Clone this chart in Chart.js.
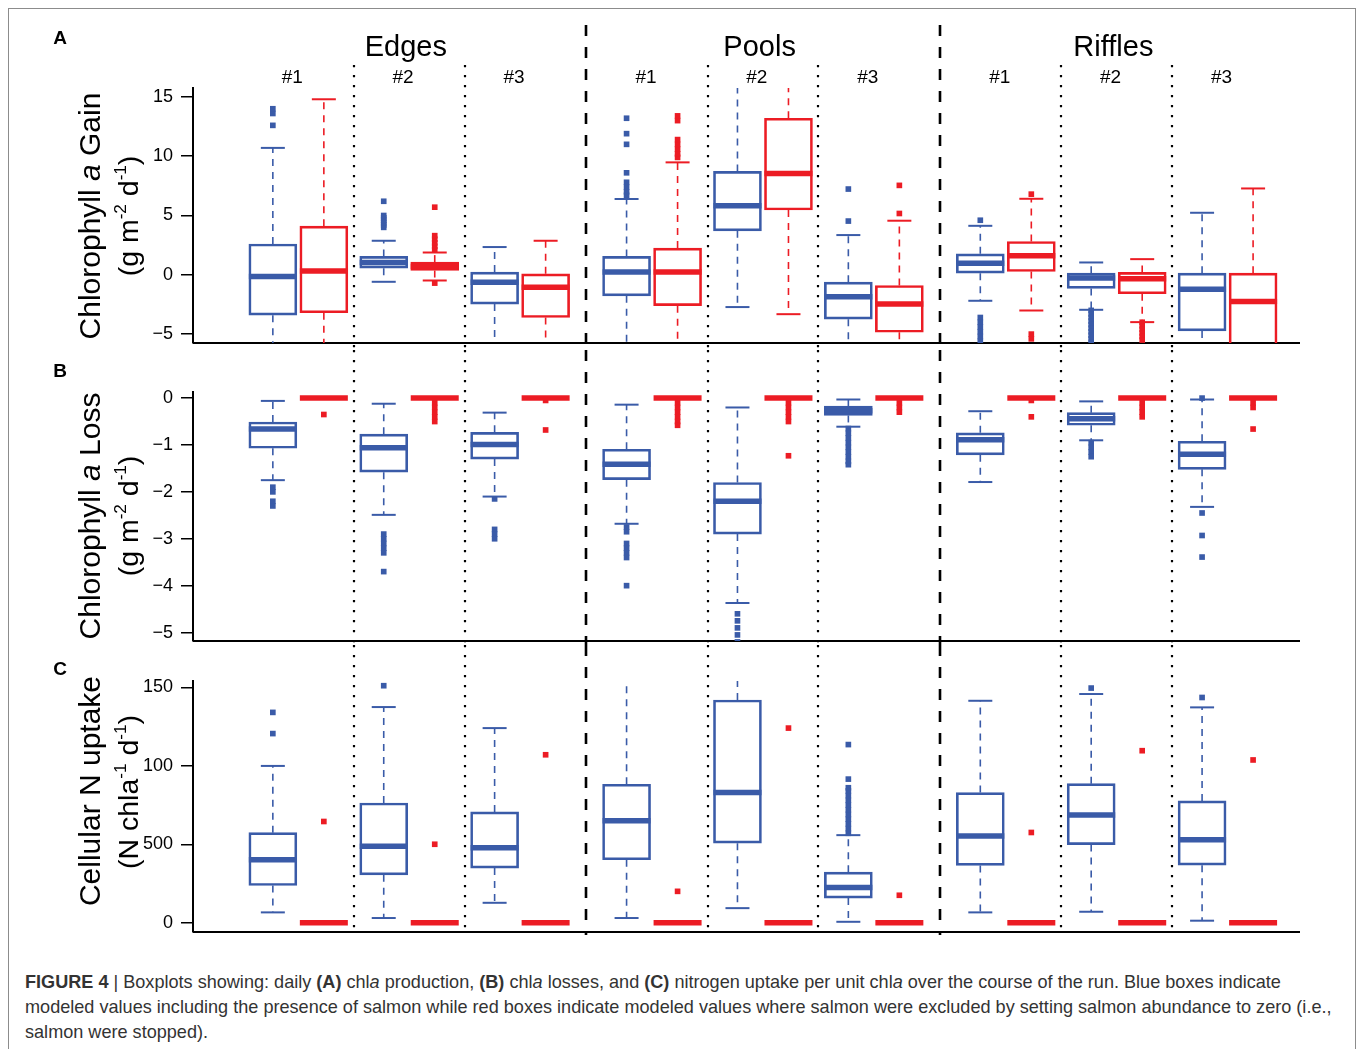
<!DOCTYPE html>
<html>
<head>
<meta charset="utf-8">
<script src="https://cdn.jsdelivr.net/npm/chart.js@4.4.1/dist/chart.umd.min.js"></script>
<style>
  body { margin: 0; background: #fff; font-family: "Liberation Sans", Arial, sans-serif; }
  #page { position: relative; width: 1360px; height: 1049px; overflow: hidden; }
  #frame { position: absolute; left: 8px; top: 8px; width: 1346px; height: 1100px; border: 1.5px solid #8c8c8c; }
  canvas { position: absolute; left: 0; }
  .lab { position: absolute; white-space: nowrap; transform: translate(-50%, -50%); color: #000; line-height: 1; }
  .ytitle { position: absolute; white-space: nowrap; transform: translate(-50%, -50%) rotate(-90deg); color: #000; line-height: 1; }
  .ytitle sup { font-size: 60%; vertical-align: 0; position: relative; top: -0.7em; }
  .letter { font-weight: bold; font-size: 19px; }
  .hab { font-size: 29px; }
  .site { font-size: 19px; }
  #caption { position: absolute; left: 25px; top: 970px; width: 1330px; font-size: 18.1px; line-height: 25px; color: #333; }
</style>
</head>
<body>
<div id="page">
  <div id="frame"></div>
  <canvas id="chartA" width="1360" height="330" style="top:20px"></canvas>
  <canvas id="chartB" width="1360" height="295" style="top:350px"></canvas>
  <canvas id="chartC" width="1360" height="300" style="top:645px"></canvas>

  <div class="lab letter" style="left:60px;top:37px">A</div>
  <div class="lab letter" style="left:60px;top:370px">B</div>
  <div class="lab letter" style="left:60px;top:668px">C</div>

  <div class="ytitle" style="left:90px;top:216px;font-size:30px">Chlorophyll <i>a</i> Gain</div>
  <div class="ytitle" style="left:128px;top:216px;font-size:28.5px">(g m<sup>-2</sup> d<sup>-1</sup>)</div>
  <div class="ytitle" style="left:90px;top:516px;font-size:30px">Chlorophyll <i>a</i> Loss</div>
  <div class="ytitle" style="left:128px;top:516px;font-size:28.5px">(g m<sup>-2</sup> d<sup>-1</sup>)</div>
  <div class="ytitle" style="left:90px;top:791px;font-size:30px">Cellular N uptake</div>
  <div class="ytitle" style="left:128px;top:792px;font-size:28.5px">(N chla<sup>-1</sup> d<sup>-1</sup>)</div>

  <div id="topLabels"></div>

  <div id="caption"><b>FIGURE 4</b> | Boxplots showing: daily <b>(A)</b> chl<i>a</i> production, <b>(B)</b> chl<i>a</i> losses, and <b>(C)</b> nitrogen uptake per unit chl<i>a</i> over the course of the run. Blue boxes indicate<br>modeled values including the presence of salmon while red boxes indicate modeled values where salmon were excluded by setting salmon abundance to zero (i.e.,<br>salmon were stopped).</div>
</div>

<script>
//Boxplots of modelled chla gain, chla loss and N uptake, with and without salmon

//Categories
var habitats = ["Edges", "Pools", "Riffles"];
var sites = ["#1", "#2", "#3"];

//Each box is [lower whisker, Q1, median, Q3, upper whisker], 9 boxes = 3 habitats x 3 sites
//Panel A - chla gain, with salmon (blue)
var gainSalmon = [
    [-6.5, -3.4, -0.15, 2.6, 10.7], [-0.59, 0.56, 1.04, 1.55, 2.87], [-6.5, -2.47, -0.62, 0.23, 2.34],
    [-6.5, -1.77, 0.23, 1.55, 6.39], [-2.72, 3.71, 5.82, 8.72, 17], [-6.5, -3.74, -1.86, -0.62, 3.35],
    [-2.19, 0.14, 0.98, 1.77, 4.13], [-2.95, -1.15, -0.28, 0.14, 1.04], [-6.5, -4.73, -1.21, 0.14, 5.23]
];
var gainSalmonOut = [
    [12.6, 13.6, 14.0], [4.0, 4.2, 4.4, 4.6, 4.8, 5.0, 6.2], [],
    [6.7, 7.0, 7.4, 7.8, 8.6, 11.0, 11.9, 13.2], [], [4.53, 7.23],
    [4.6, -3.6, -4.0, -4.4, -4.8, -5.2, -5.6], [-3.0, -3.3, -3.6, -3.9, -4.2, -4.5, -4.8, -5.1, -5.4, -5.7], []
];
//Panel A - chla gain, salmon excluded (red)
var gainNoSalmon = [
    [-6.5, -3.2, 0.33, 4.1, 14.8], [-0.48, 0.36, 0.7, 1.07, 1.88], [-6.5, -3.6, -1.04, 0.08, 2.87],
    [-6.5, -2.6, 0.23, 2.25, 9.48], [-3.32, 5.46, 8.55, 13.2, 17], [-6.5, -4.84, -2.47, -0.9, 4.56],
    [-3.01, 0.28, 1.6, 2.81, 6.41], [-3.99, -1.6, -0.34, 0.2, 1.32], [-6.5, -6.5, -2.25, 0.14, 7.28]
];
var gainNoSalmonOut = [
    [], [2.1, 2.4, 2.7, 3.0, 3.3, 5.7, -0.7], [],
    [9.9, 10.2, 10.6, 11.0, 11.4, 13.0, 13.4], [], [5.17, 7.54],
    [6.8, -5.0, -5.4], [-4.0, -4.3, -4.6, -4.9, -5.2, -5.5], []
];

//Panel B - chla loss
var lossSalmon = [
    [-1.75, -1.07, -0.66, -0.51, -0.06], [-2.49, -1.58, -1.06, -0.77, -0.12], [-2.1, -1.3, -0.99, -0.73, -0.31],
    [-2.68, -1.74, -1.41, -1.09, -0.14], [-4.37, -2.9, -2.2, -1.8, -0.2], [-0.61, -0.37, -0.27, -0.17, -0.03],
    [-1.79, -1.21, -0.89, -0.74, -0.28], [-0.9, -0.58, -0.44, -0.31, -0.07], [-2.32, -1.52, -1.2, -0.92, -0.03]
];
var lossSalmonOut = [
    [-1.9, -2.0, -2.2, -2.3], [-2.9, -3.0, -3.1, -3.2, -3.3, -3.7], [-2.15, -2.8, -2.9, -3.0],
    [-2.75, -2.85, -3.1, -3.2, -3.3, -3.4, -4.0], [-4.6, -4.75, -4.9, -5.05, -5.2],
    [-0.65, -0.75, -0.85, -0.95, -1.05, -1.15, -1.25, -1.35, -1.42],
    [], [-0.95, -1.05, -1.15, -1.25], [0, -2.45, -2.93, -3.39]
];
var lossNoSalmon = [
    [0, 0, 0, 0, 0], [0, 0, 0, 0, 0], [0, 0, 0, 0, 0],
    [0, 0, 0, 0, 0], [0, 0, 0, 0, 0], [0, 0, 0, 0, 0],
    [0, 0, 0, 0, 0], [0, 0, 0, 0, 0], [0, 0, 0, 0, 0]
];
var lossNoSalmonOut = [
    [-0.35], [-0.1, -0.2, -0.3, -0.4, -0.5], [-0.05, -0.68],
    [-0.1, -0.2, -0.3, -0.4, -0.5, -0.58], [-0.1, -0.2, -0.3, -0.4, -0.5, -1.23], [-0.1, -0.2, -0.3],
    [-0.05, -0.4], [-0.1, -0.2, -0.3, -0.4], [-0.1, -0.2, -0.66]
];

//Panel C - cellular N uptake
var uptakeSalmon = [
    [6.6, 23.7, 40.1, 57.4, 99.9], [3.0, 30.5, 48.8, 76.3, 137.4], [12.7, 34.8, 47.7, 70.6, 124],
    [3.0, 40.1, 64.9, 88.2, 160], [9.3, 50.7, 82.9, 141.9, 160], [0.6, 15.7, 22.5, 32.2, 55.8],
    [6.6, 36.5, 55.3, 82.9, 141.4], [7.0, 49.8, 68.7, 88.6, 145.7], [1.3, 36.7, 52.8, 77.6, 137.2]
];
var uptakeSalmonOut = [
    [120.5, 134], [151], [],
    [], [], [57, 60, 63, 66, 69, 72, 75, 78, 81, 84, 86, 91.5, 113.5],
    [], [149.5], [143.5]
];
var uptakeNoSalmon = [
    [0, 0, 0, 0, 0], [0, 0, 0, 0, 0], [0, 0, 0, 0, 0],
    [0, 0, 0, 0, 0], [0, 0, 0, 0, 0], [0, 0, 0, 0, 0],
    [0, 0, 0, 0, 0], [0, 0, 0, 0, 0], [0, 0, 0, 0, 0]
];
var uptakeNoSalmonOut = [
    [64.5], [50], [107],
    [20], [124], [17.5],
    [57.5], [109.6], [103.7]
];

//Tick values and their printed labels
var gainTicks = [-5, 0, 5, 10, 15];
var gainTickLabels = ["\u22125", "0", "5", "10", "15"];
var lossTicks = [-5, -4, -3, -2, -1, 0];
var lossTickLabels = ["\u22125", "\u22124", "\u22123", "\u22122", "\u22121", "0"];
var uptakeTicks = [0, 50, 100, 150];
var uptakeTickLabels = ["0", "500", "100", "150"];

//Colours
var blue = "#3a5ba8";
var red = "#ec1c24";

//Box placement on the x axis (in site units)
var HAB_STEP = 3.19;
var PAIR_GAP = 0.46;
var X_MIN = -0.72;
var X_MAX = 2 * HAB_STEP + 2 + PAIR_GAP + 0.405;

function boxPos(i, series) {
    var h = Math.floor(i / 3);
    var s = i % 3;
    return h * HAB_STEP + s + series * PAIR_GAP;
}

function segment(ctx, x1, y1, x2, y2) {
    ctx.beginPath();
    ctx.moveTo(x1, y1);
    ctx.lineTo(x2, y2);
    ctx.stroke();
}

//Plugin: dividers, x axis line, whiskers, caps and medians
var boxplotParts = {
    id: "boxplotParts",
    beforeDatasetsDraw: function (chart, args, opts) {
        var ctx = chart.ctx;
        var xs = chart.scales.x;
        var area = chart.chartArea;
        ctx.save();
        ctx.strokeStyle = "#000";
        //dotted lines between sites
        ctx.lineWidth = 2.2;
        ctx.setLineDash([2.2, 7.8]);
        for (var h = 0; h < 3; h++) {
            for (var s = 0; s < 2; s++) {
                var px = Math.round(xs.getPixelForValue(h * HAB_STEP + s + (1 + PAIR_GAP) / 2));
                segment(ctx, px, opts.dotTop, px, opts.bottom);
            }
        }
        //dashed lines between habitats
        ctx.lineWidth = 2.6;
        ctx.setLineDash([11, 11]);
        for (var k = 0; k < 2; k++) {
            var dx = Math.round(xs.getPixelForValue(k * HAB_STEP + (2 + PAIR_GAP + HAB_STEP) / 2));
            segment(ctx, dx, opts.dashTop, dx, opts.bottom);
        }
        //x axis line
        ctx.setLineDash([]);
        ctx.lineWidth = 2;
        segment(ctx, area.left, area.bottom, area.right + 2, area.bottom);
        ctx.restore();
    },
    afterDatasetsDraw: function (chart) {
        var ctx = chart.ctx;
        var ys = chart.scales.y;
        var area = chart.chartArea;
        ctx.save();
        ctx.beginPath();
        ctx.rect(area.left, area.top, area.right - area.left, area.bottom - area.top);
        ctx.clip();
        chart.data.datasets.forEach(function (ds, di) {
            if (!ds.stats) return;
            var meta = chart.getDatasetMeta(di);
            ctx.strokeStyle = ds.borderColor;
            ds.stats.forEach(function (st, i) {
                var bar = meta.data[i];
                var x = bar.x, w = bar.width;
                var yLo = ys.getPixelForValue(st[0]);
                var yQ1 = ys.getPixelForValue(st[1]);
                var yMed = ys.getPixelForValue(st[2]);
                var yQ3 = ys.getPixelForValue(st[3]);
                var yHi = ys.getPixelForValue(st[4]);
                ctx.lineCap = "butt";
                if (st[4] > st[3]) {
                    ctx.lineWidth = 1.6;
                    ctx.setLineDash([7, 6]);
                    segment(ctx, x, yQ3, x, yHi);
                    ctx.setLineDash([]);
                    ctx.lineWidth = 2;
                    segment(ctx, x - w / 4, yHi, x + w / 4, yHi);
                }
                if (st[0] < st[1]) {
                    ctx.lineWidth = 1.6;
                    ctx.setLineDash([7, 6]);
                    segment(ctx, x, yQ1, x, yLo);
                    ctx.setLineDash([]);
                    ctx.lineWidth = 2;
                    segment(ctx, x - w / 4, yLo, x + w / 4, yLo);
                }
                ctx.setLineDash([]);
                ctx.lineWidth = 5.5;
                segment(ctx, x - w / 2, yMed, x + w / 2, yMed);
            });
        });
        ctx.restore();
    }
};

function boxDataset(stats, color, series) {
    return {
        type: "bar",
        data: stats.map(function (st, i) { return { x: boxPos(i, series), y: [st[1], st[3]] }; }),
        stats: stats,
        backgroundColor: "rgba(255,255,255,0)",
        borderColor: color,
        borderWidth: 2,
        borderSkipped: false,
        barThickness: 48,
        grouped: false,
        clip: 0,
        order: 2
    };
}

function outlierDataset(outs, color, series) {
    var pts = [];
    outs.forEach(function (list, i) {
        list.forEach(function (v) { pts.push({ x: boxPos(i, series), y: v }); });
    });
    return {
        type: "scatter",
        data: pts,
        pointStyle: "rect",
        pointRadius: 4,
        pointHoverRadius: 4,
        backgroundColor: color,
        borderWidth: 0,
        clip: 0,
        order: 1
    };
}

function makePanel(id, blueStats, blueOut, redStats, redOut, yMin, yMax, ticks, tickLabels, pad, divOpts) {
    return new Chart(id, {
        type: "bar",
        data: {
            datasets: [
                boxDataset(blueStats, blue, 0),
                boxDataset(redStats, red, 1),
                outlierDataset(blueOut, blue, 0),
                outlierDataset(redOut, red, 1)
            ]
        },
        options: {
            responsive: false,
            animation: false,
            events: [],
            layout: { padding: { left: 0, right: 62, top: pad[0], bottom: pad[1] } },
            plugins: {
                legend: { display: false },
                tooltip: { enabled: false },
                boxplotParts: divOpts
            },
            scales: {
                x: { type: "linear", min: X_MIN, max: X_MAX, offset: false, display: false },
                y: {
                    min: yMin,
                    max: yMax,
                    afterFit: function (scale) {
                        scale.width = 193;
                        scale.paddingTop = 0;
                        scale.paddingBottom = 0;
                    },
                    afterBuildTicks: function (scale) {
                        scale.ticks = ticks.map(function (v) { return { value: v }; });
                    },
                    ticks: {
                        callback: function (v) { return tickLabels[ticks.indexOf(v)]; },
                        color: "#000",
                        padding: 8,
                        font: { family: "'Liberation Sans', Arial, sans-serif", size: 18 }
                    },
                    grid: {
                        drawOnChartArea: false,
                        drawTicks: true,
                        tickLength: 12,
                        color: "#000",
                        tickColor: "#000",
                        lineWidth: 1.5,
                        tickWidth: 1.5
                    },
                    border: { display: true, color: "#000", width: 2 }
                }
            }
        },
        plugins: [boxplotParts]
    });
}

var chartA = makePanel("chartA", gainSalmon, gainSalmonOut, gainNoSalmon, gainNoSalmonOut,
    -5.75, 15.75, gainTicks, gainTickLabels, [68, 7], { dashTop: 5, dotTop: 45, bottom: 330 });
var chartB = makePanel("chartB", lossSalmon, lossSalmonOut, lossNoSalmon, lossNoSalmonOut,
    -5.18, 0.13, lossTicks, lossTickLabels, [42, 3], { dashTop: 0, dotTop: 0, bottom: 295 });
var chartC = makePanel("chartC", uptakeSalmon, uptakeSalmonOut, uptakeNoSalmon, uptakeNoSalmonOut,
    -5.9, 154, uptakeTicks, uptakeTickLabels, [36, 13], { dashTop: 0, dotTop: 0, bottom: 290 });

//Habitat and site labels above panel A, placed with the chart's own x scale
var xScaleA = chartA.scales.x;
var labelBox = document.getElementById("topLabels");
var html = "";
habitats.forEach(function (name, h) {
    html += '<div class="lab hab" style="left:' + xScaleA.getPixelForValue(h * HAB_STEP + 1.2) + 'px;top:46px">' + name + '</div>';
    sites.forEach(function (site, s) {
        html += '<div class="lab site" style="left:' + xScaleA.getPixelForValue(h * HAB_STEP + s + 0.175) + 'px;top:76px">' + site + '</div>';
    });
});
labelBox.innerHTML = html;
</script>
</body>
</html>
